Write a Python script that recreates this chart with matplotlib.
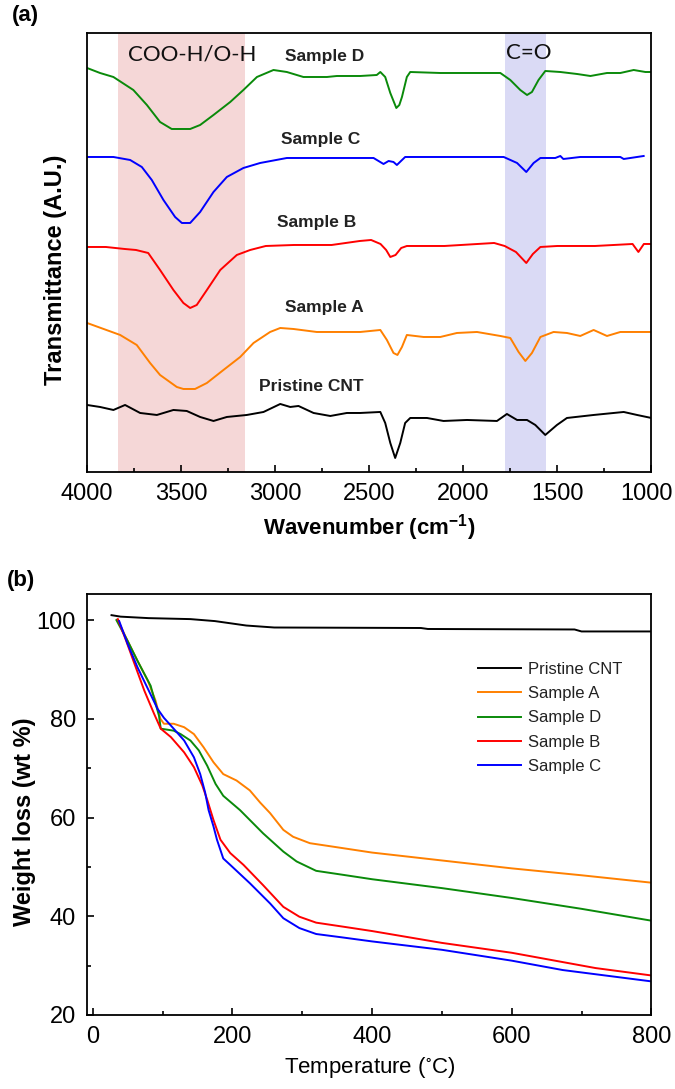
import matplotlib
matplotlib.use("Agg")
import matplotlib.pyplot as plt
from matplotlib.ticker import MultipleLocator
from matplotlib.transforms import ScaledTranslation

plt.rcParams['font.family'] = ['Liberation Sans', 'DejaVu Sans']
plt.rcParams['mathtext.default'] = 'regular'

# (a) FTIR spectra, y in arbitrary units (stacked)
green_w = [4000, 3931, 3860, 3754, 3682, 3612, 3550, 3452, 3399, 3328, 3239, 3169, 3097, 3009, 2938,
           2850, 2725, 2672, 2548, 2460, 2441, 2415, 2388, 2356, 2340, 2326, 2300, 2282, 2122, 1803,
           1750, 1697, 1661, 1635, 1600, 1564, 1484, 1395, 1324, 1236, 1165, 1094, 1032, 1000]
green_y = [404, 399, 395, 382, 367, 350, 343, 343, 347, 357, 370, 382, 395, 402, 400,
           395, 395, 396, 396, 397, 400, 395, 379, 364, 367, 375, 395, 400, 399, 399,
           392, 382, 377, 380, 392, 401, 400, 398, 396, 399, 399, 402, 400, 400]

blue_w = [4000, 3860, 3771, 3709, 3656, 3594, 3532, 3496, 3452, 3399, 3328, 3257, 3169, 3080, 2938,
          2548, 2477, 2424, 2397, 2371, 2353, 2309, 1785, 1714, 1665, 1626, 1590, 1511, 1484, 1468,
          1378, 1165, 1147, 1041]
blue_y = [315, 315, 312, 305, 292, 272, 255, 249, 249, 260, 280, 295, 304, 309, 314,
          314, 314, 308, 311, 310, 307, 315, 315, 309, 300, 309, 314, 314, 316, 313,
          315, 315, 313, 316]

red_w = [4000, 3900, 3800, 3740, 3675, 3612, 3541, 3488, 3452, 3417, 3363, 3292, 3204, 3133, 3050,
         2900, 2700, 2550, 2490, 2440, 2410, 2388, 2360, 2330, 2300, 2100, 1836, 1780, 1720, 1665,
         1630, 1590, 1500, 1300, 1100, 1069, 1040, 1000]
red_y = [225, 225, 223, 222, 219, 202, 182, 169, 164, 167, 182, 202, 217, 222, 226,
         227, 227, 231, 232, 228, 222, 215, 217, 224, 226, 226, 229, 226, 220, 209,
         218, 225, 226, 226, 228, 220, 228, 228]

orange_w = [4000, 3824, 3736, 3665, 3612, 3523, 3488, 3426, 3363, 3275, 3186, 3115, 3027, 2973, 2903,
            2779, 2548, 2441, 2406, 2371, 2350, 2326, 2300, 2211, 2122, 2034, 1927, 1803, 1750, 1706,
            1670, 1635, 1590, 1520, 1449, 1378, 1307, 1236, 1165, 1000]
orange_y = [149, 137, 127, 109, 97, 85, 83, 83, 89, 102, 115, 129, 140, 144, 143,
            140, 140, 142, 132, 119, 117, 125, 137, 135, 135, 139, 140, 136, 134, 120,
            111, 119, 135, 140, 139, 136, 142, 136, 140, 140]

black_w = [4000, 3931, 3860, 3798, 3718, 3629, 3541, 3470, 3399, 3328, 3257, 3151, 3062, 2973, 2920,
           2876, 2796, 2707, 2619, 2548, 2441, 2415, 2388, 2362, 2335, 2309, 2282, 2193, 2105, 1980,
           1821, 1768, 1714, 1661, 1617, 1564, 1502, 1449, 1307, 1147, 1076, 1000]
black_y = [67, 65, 62, 67, 59, 57, 62, 61, 55, 51, 55, 57, 60, 68, 65,
           66, 59, 56, 59, 59, 60, 49, 29, 14, 29, 49, 54, 54, 51, 52,
           51, 58, 52, 52, 47, 37, 47, 54, 57, 60, 57, 54]

wn_ticks = [4000, 3500, 3000, 2500, 2000, 1500, 1000]

# (b) TGA curves
cnt_t = [27, 40, 80, 140, 175, 200, 220, 260, 470, 480, 690, 700, 800]
cnt_w = [101.0, 100.7, 100.4, 100.2, 99.8, 99.3, 98.9, 98.5, 98.4, 98.2, 98.1, 97.7, 97.7]

a_t = [36, 50, 64, 79, 90, 97, 102, 116, 131, 145, 159, 173, 187, 206, 225, 240, 254, 273, 287, 311,
       344, 400, 500, 600, 700, 800]
a_w = [100, 95.8, 91.8, 87.7, 83.7, 80.0, 79.0, 79.0, 78.3, 76.9, 74.2, 71.2, 68.8, 67.5, 65.5, 63.0,
       60.9, 57.5, 56.1, 54.8, 54.1, 52.9, 51.3, 49.7, 48.3, 46.8]

d_t = [34, 50, 64, 83, 95, 97.5, 116, 126, 140, 152, 164, 176, 187, 211, 244, 273, 292, 320, 358, 400,
       500, 600, 700, 800]
d_w = [100, 95.8, 91.8, 86.7, 80.6, 78.0, 77.6, 76.9, 75.6, 73.6, 70.5, 66.8, 64.4, 61.5, 56.8, 53.1,
       51.1, 49.2, 48.4, 47.5, 45.7, 43.7, 41.5, 39.1]

b_t = [36, 48, 60, 74, 88, 97.5, 112, 131, 145, 157, 164, 173, 183, 197, 216, 244, 273, 296, 320, 358,
       400, 500, 600, 720, 800]
b_w = [100.2, 95.8, 91.1, 85.7, 81.0, 78.0, 76.3, 73.2, 70.2, 66.5, 63.6, 59.5, 55.5, 52.8, 50.4, 46.3,
       41.9, 39.9, 38.7, 37.9, 37.0, 34.6, 32.6, 29.5, 28.0]

c_t = [38, 50, 64, 79, 93, 102, 116, 131, 145, 154, 161, 166, 173, 178, 187, 197, 225, 254, 273, 296,
       320, 358, 400, 500, 600, 673, 800]
c_w = [99.8, 95.2, 90.5, 86.1, 82.0, 80.2, 78.0, 75.6, 72.2, 68.8, 65.1, 61.5, 58.2, 55.5, 51.7, 50.4,
       46.7, 42.6, 39.6, 37.6, 36.4, 35.7, 34.9, 33.2, 31.0, 29.1, 26.8]

GREEN = '#0a8a0a'
BLUE = '#0000ff'
RED = '#ff0000'
ORANGE = '#ff8000'
BLACK = '#000000'

fig = plt.figure(figsize=(6.75, 10.89), dpi=100)

# ---------- (a) ----------
ax1 = fig.add_axes([0.129, 0.5666, 0.836, 0.4031])
ax1.axvspan(3160, 3837, color='#f5d7d7', lw=0, zorder=0)
ax1.axvspan(1559, 1777, color='#dadaf5', lw=0, zorder=0)
lw = 1.4
ax1.plot(green_w, green_y, color=GREEN, lw=lw)
ax1.plot(blue_w, blue_y, color=BLUE, lw=lw)
ax1.plot(red_w, red_y, color=RED, lw=lw)
ax1.plot(orange_w, orange_y, color=ORANGE, lw=lw)
ax1.plot(black_w, black_y, color=BLACK, lw=lw)

ax1.set_xlim(4000, 1000)
ax1.set_ylim(0, 439)
ax1.set_yticks([])
ax1.set_xticks(wn_ticks)
ax1.xaxis.set_minor_locator(MultipleLocator(250))
ax1.tick_params(axis='x', which='major', direction='in', length=5, width=1.2, labelsize=17, pad=8)
ax1.tick_params(axis='x', which='minor', direction='in', length=3, width=1.2)
for s in ax1.spines.values():
    s.set_linewidth(1.3)
# the last label sits at the figure edge, nudge it a little inwards
last = ax1.get_xticklabels()[-1]
last.set_transform(last.get_transform() + ScaledTranslation(-5 / 100, 0, fig.dpi_scale_trans))

lbl = dict(fontsize=12.5, fontweight='bold', color='#222222', ha='center', va='center')
ax1.text(2739, 415, 'Sample D', **lbl)
ax1.text(2761, 332, 'Sample C', **lbl)
ax1.text(2782, 249, 'Sample B', **lbl)
ax1.text(2739, 164, 'Sample A', **lbl)
ax1.text(2809, 85, 'Pristine CNT', **lbl)
ax1.text(3441, 417, 'COO-H/O-H', fontsize=16, family=['Lato', 'DejaVu Sans'], color='#111111',
         ha='center', va='center')
ax1.text(1650, 419, 'C=O', fontsize=16, family=['Lato', 'DejaVu Sans'], color='#111111',
         ha='center', va='center')

ax1.set_ylabel('Transmittance (A.U.)', fontsize=17, fontweight='bold')
ax1.yaxis.set_label_coords(-0.035, 0.46)
ax1.set_xlabel(r'Wavenumber (cm$^{-1}$)', fontsize=16, fontweight='bold', labelpad=5)
fig.text(0.037, 0.986, '(a)', fontsize=16, fontweight='bold', ha='center', va='center')

# ---------- (b) ----------
ax2 = fig.add_axes([0.129, 0.0680, 0.836, 0.3866])
ax2.plot(cnt_t, cnt_w, color=BLACK, lw=lw, label='Pristine CNT')
ax2.plot(a_t, a_w, color=ORANGE, lw=lw, label='Sample A')
ax2.plot(d_t, d_w, color=GREEN, lw=lw, label='Sample D')
ax2.plot(b_t, b_w, color=RED, lw=lw, label='Sample B')
ax2.plot(c_t, c_w, color=BLUE, lw=lw, label='Sample C')

ax2.set_xlim(-8, 800)
ax2.set_ylim(20, 105.3)
ax2.xaxis.set_major_locator(MultipleLocator(200))
ax2.xaxis.set_minor_locator(MultipleLocator(100))
ax2.yaxis.set_major_locator(MultipleLocator(20))
ax2.yaxis.set_minor_locator(MultipleLocator(10))
ax2.tick_params(which='major', direction='in', length=5, width=1.2, labelsize=17, pad=8)
ax2.tick_params(which='minor', direction='in', length=3, width=1.2)
for s in ax2.spines.values():
    s.set_linewidth(1.3)

ax2.set_xlabel('Temperature ($^{\\circ}$C)', fontsize=16, labelpad=5)
ax2.set_ylabel('Weight loss (wt %)', fontsize=17, fontweight='bold')
ax2.yaxis.set_label_coords(-0.09, 0.46)

leg = ax2.legend(loc='upper left', bbox_to_anchor=(0.693, 0.838), frameon=False,
                 fontsize=12, borderpad=0, borderaxespad=0, handlelength=2.6,
                 handletextpad=0.4, labelspacing=0.55)
for t in leg.get_texts():
    t.set_color('#222222')
fig.text(0.031, 0.467, '(b)', fontsize=16, fontweight='bold', ha='center', va='center')

fig.savefig('out.png', dpi=100)
